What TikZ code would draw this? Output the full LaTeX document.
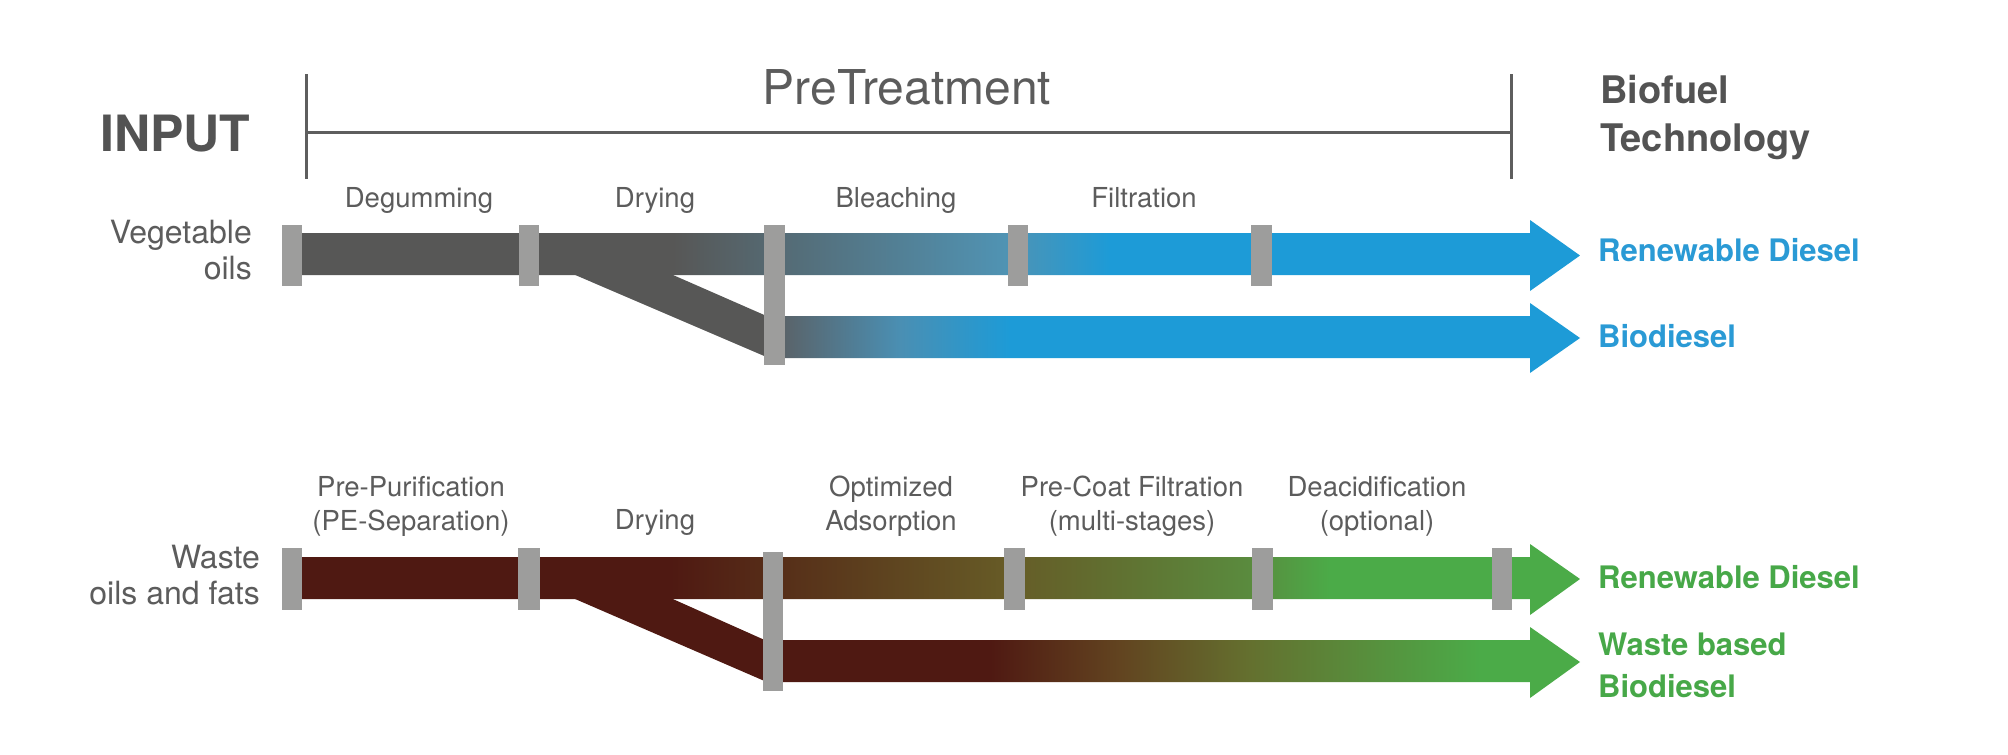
\documentclass[tikz,border=0pt]{standalone}
\usepackage{fontspec}
\setmainfont{TeX Gyre Heros}
\definecolor{lblc}{HTML}{5C5C5C}
\definecolor{headc}{HTML}{535353}
\definecolor{brc}{HTML}{5E5E5E}
\definecolor{plugc}{HTML}{9D9D9C}
\definecolor{vgray}{HTML}{575756}
\definecolor{vgrayb}{HTML}{5B6064}
\definecolor{vmid}{HTML}{5093B3}
\definecolor{vmidb}{HTML}{4A8FB3}
\definecolor{vblue}{HTML}{1D9BD7}
\definecolor{bluetxt}{HTML}{2A9AD5}
\definecolor{wred}{HTML}{4F1912}
\definecolor{wbrown}{HTML}{665A26}
\definecolor{wbrownb}{HTML}{624420}
\definecolor{wolive}{HTML}{5A8B3E}
\definecolor{wolivb}{HTML}{64702F}
\definecolor{wolivc}{HTML}{56923E}
\definecolor{wgreen}{HTML}{4BAB48}
\definecolor{greentxt}{HTML}{47A848}
\pgfdeclarehorizontalshading{vegtop}{100bp}{color(0bp)=(vgray); color(39.84bp)=(vgray); color(52.71bp)=(vmid); color(56.78bp)=(vblue); color(100bp)=(vblue)}
\pgfdeclarehorizontalshading{veglow}{100bp}{color(0bp)=(vgrayb); color(25bp)=(vgrayb); color(32.76bp)=(vmidb); color(39.6bp)=(vblue); color(100bp)=(vblue)}
\pgfdeclarehorizontalshading{wastetop}{100bp}{color(0bp)=(wred); color(39.73bp)=(wred); color(52.64bp)=(wbrown); color(62.21bp)=(wolive); color(65.31bp)=(wgreen); color(100bp)=(wgreen)}
\pgfdeclarehorizontalshading{wastelow}{100bp}{color(0bp)=(wred); color(38.58bp)=(wred); color(46.6bp)=(wbrownb); color(54.63bp)=(wolivb); color(62.65bp)=(wolivc); color(68.83bp)=(wgreen); color(100bp)=(wgreen)}
\tikzset{
  plug/.style={fill=plugc},
  lbl/.style={font=\fontsize{27.5}{34}\selectfont, text=lblc, inner sep=0pt, anchor=base},
  src/.style={font=\fontsize{32}{36}\selectfont, text=lblc, inner sep=0pt, anchor=base east},
  outlbl/.style={font=\bfseries\fontsize{31}{38}\selectfont, inner sep=0pt, anchor=base west},
  headlbl/.style={font=\bfseries\fontsize{38}{50}\selectfont, text=headc, inner sep=0pt, anchor=base west},
  bracketline/.style={draw=brc, line width=3pt},
}
\begin{document}
\begin{tikzpicture}[x=1pt,y=-1pt]
\useasboundingbox (0,0) rectangle (2008,755);
\fill[white] (0,0) rectangle (2008,755);

% ---------- header ----------
\node[font=\bfseries\fontsize{50}{56}\selectfont, text=headc, inner sep=0pt, anchor=base west] (input) at (100,151) {INPUT};
\node[font=\fontsize{48}{56}\selectfont, text=lblc, inner sep=0pt, anchor=base] (pretreat) at (907,104) {PreTreatment};
\node[headlbl] (biofuel) at (1600,103) {Biofuel};
\node[headlbl] (biotech) at (1600,151) {Technology};
\coordinate (bl) at (306,132);
\coordinate (br) at (1511,132);
\draw[bracketline] (306,74) -- (306,179);
\draw[bracketline] (1511,74) -- (1511,179);
\draw[bracketline] (bl) -- (br);

% ---------- vegetable oils row ----------
\shade[shading=vegtop] (290,233) -- (1530,233) -- (1530,220) -- (1580,255.5) -- (1530,291) -- (1530,275) -- (290,275) -- cycle;
% branch
\fill[vgray] (563.6,270) -- (661.6,270) -- (770,317.5) -- (770,358.5) -- cycle;
\shade[shading=veglow] (775,316) -- (1530,316) -- (1530,303) -- (1580,338) -- (1530,373) -- (1530,358) -- (775,358) -- cycle;
% plugs
\fill[plug] (282,225) rectangle (302,286);
\fill[plug] (519,225) rectangle (539,286);
\fill[plug] (764,225) rectangle (785,365);
\fill[plug] (1008,225) rectangle (1028,286);
\fill[plug] (1251,225) rectangle (1272,286);
% labels
\node[src] (veg1) at (252,243) {Vegetable};
\node[src] (veg2) at (252,279) {oils};
\node[lbl] (degum) at (419,207) {Degumming};
\node[lbl] (dry1) at (655,207) {Drying};
\node[lbl] (bleach) at (896,207) {Bleaching};
\node[lbl] (filt) at (1144,207) {Filtration};
\node[outlbl, text=bluetxt] (rd1) at (1598,261) {Renewable Diesel};
\node[outlbl, text=bluetxt] (bd1) at (1598,347) {Biodiesel};

% ---------- waste oils row ----------
\shade[shading=wastetop] (290,557) -- (1530,557) -- (1530,544) -- (1580,579) -- (1530,615) -- (1530,599) -- (290,599) -- cycle;
% branch
\fill[wred] (563.6,594) -- (661.6,594) -- (768,641.5) -- (768,682.5) -- cycle;
\shade[shading=wastelow] (770,640) -- (1530,640) -- (1530,627) -- (1580,662) -- (1530,698) -- (1530,682) -- (770,682) -- cycle;
% plugs
\fill[plug] (282,548) rectangle (302,610);
\fill[plug] (518,548) rectangle (540,610);
\fill[plug] (763,552) rectangle (783,691);
\fill[plug] (1004,548) rectangle (1025,610);
\fill[plug] (1252,548) rectangle (1273,610);
\fill[plug] (1492,548) rectangle (1512,610);
% labels
\node[src] (waste1) at (260,568) {Waste};
\node[src] (waste2) at (260,604) {oils and fats};
\node[lbl] (prep1) at (411,496) {Pre-Purification};
\node[lbl] (prep2) at (411,530) {(PE-Separation)};
\node[lbl] (dry2) at (655,529) {Drying};
\node[lbl] (opt1) at (891,496) {Optimized};
\node[lbl] (opt2) at (891,530) {Adsorption};
\node[lbl] (pcf1) at (1132,496) {Pre-Coat Filtration};
\node[lbl] (pcf2) at (1132,530) {(multi-stages)};
\node[lbl] (deac1) at (1377,496) {Deacidification};
\node[lbl] (deac2) at (1377,530) {(optional)};
\node[outlbl, text=greentxt] (rd2) at (1598,588) {Renewable Diesel};
\node[outlbl, text=greentxt] (wb1) at (1598,655) {Waste based};
\node[outlbl, text=greentxt] (wb2) at (1598,697) {Biodiesel};
\end{tikzpicture}
\end{document}
